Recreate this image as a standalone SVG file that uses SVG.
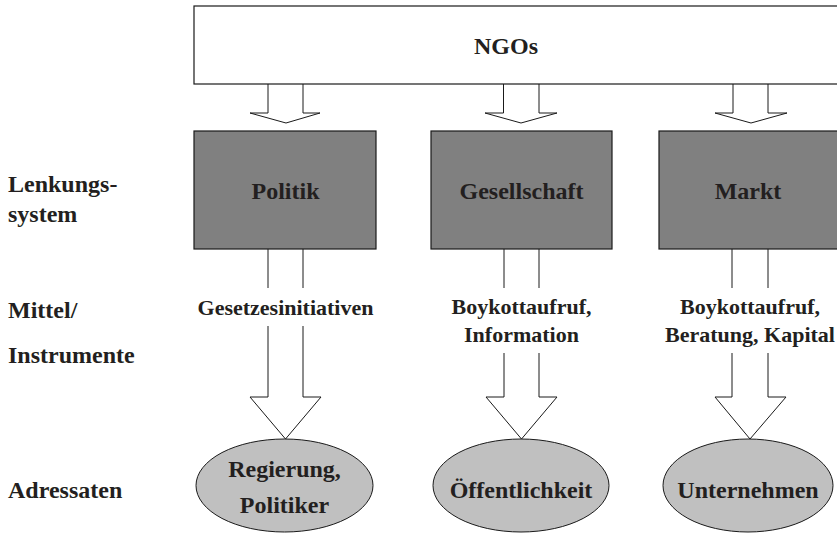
<svg xmlns="http://www.w3.org/2000/svg" width="837" height="541" viewBox="0 0 837 541">
<style>
text{font-family:"Liberation Serif","Times New Roman",serif;font-weight:bold;fill:#231f20}
.lbl{font-size:24px}
.mid{font-size:22px;text-anchor:middle}
.c{font-size:24px;text-anchor:middle}
.box{fill:#808080;stroke:#1a1a1a;stroke-width:1.2}
.ngo{fill:#fff;stroke:#1a1a1a;stroke-width:1.2}
.ell{fill:#c0c0c0;stroke:#1a1a1a;stroke-width:1}
.arr{fill:#fff;stroke:#1a1a1a;stroke-width:1}
.ln{fill:none;stroke:#1a1a1a;stroke-width:1}
</style>
<rect width="837" height="541" fill="#fff"/>
<g id="row-labels">
<text class="lbl" x="8" y="192">Lenkungs-</text>
<text class="lbl" x="8" y="222">system</text>
<text class="lbl" x="8" y="318">Mittel/</text>
<text class="lbl" x="8" y="363">Instrumente</text>
<text class="lbl" x="8" y="498">Adressaten</text>
</g>
<g id="connectors">
<path class="arr" d="M268,84 V113 H250 L286,123 L320,113 H303 V84"/>
<path class="arr" d="M503.5,84 V113 H485 L521,123 L557,113 H539 V84"/>
<path class="arr" d="M733,84 V113 H715 L751,123 L787,113 H768 V84"/>
<path class="ln" d="M268,249 V288 M303,249 V288"/>
<path class="arr" d="M268,326 V397 H250 L285.5,439 L321,397 H303 V326"/>
<path class="ln" d="M504,249 V288 M539,249 V288"/>
<path class="arr" d="M504,353 V397 H486 L521.5,439 L557,397 H539 V353"/>
<path class="ln" d="M732,249 V288 M768,249 V288"/>
<path class="arr" d="M732,353 V397 H715 L750,439 L786,397 H768 V353"/>
</g>
<g id="ngos">
<rect class="ngo" x="194" y="6" width="650" height="78"/>
<text class="c" x="506" y="54">NGOs</text>
</g>
<g id="politik">
<rect class="box" x="194" y="131" width="182" height="118"/>
<text class="c" x="285.5" y="199">Politik</text>
</g>
<g id="gesellschaft">
<rect class="box" x="431" y="131" width="181" height="118"/>
<text class="c" x="521.5" y="199">Gesellschaft</text>
</g>
<g id="markt">
<rect class="box" x="659" y="131" width="182" height="118"/>
<text class="c" x="748" y="199">Markt</text>
</g>
<g id="mittel-politik">
<text class="mid" x="285.5" y="315">Gesetzesinitiativen</text>
</g>
<g id="mittel-gesellschaft">
<text class="mid" x="521.5" y="314">Boykottaufruf,</text>
<text class="mid" x="521.5" y="342">Information</text>
</g>
<g id="mittel-markt">
<text class="mid" x="750" y="314">Boykottaufruf,</text>
<text class="mid" x="750" y="342">Beratung, Kapital</text>
</g>
<g id="regierung">
<ellipse class="ell" cx="284.5" cy="485.5" rx="88.5" ry="46.5"/>
<text class="c" x="284.5" y="477">Regierung,</text>
<text class="c" x="284.5" y="513">Politiker</text>
</g>
<g id="oeffentlichkeit">
<ellipse class="ell" cx="521" cy="485.5" rx="88" ry="46.5"/>
<text class="c" x="521" y="498">Öffentlichkeit</text>
</g>
<g id="unternehmen">
<ellipse class="ell" cx="748" cy="485.5" rx="85" ry="46.5"/>
<text class="c" x="748" y="498">Unternehmen</text>
</g>
</svg>
